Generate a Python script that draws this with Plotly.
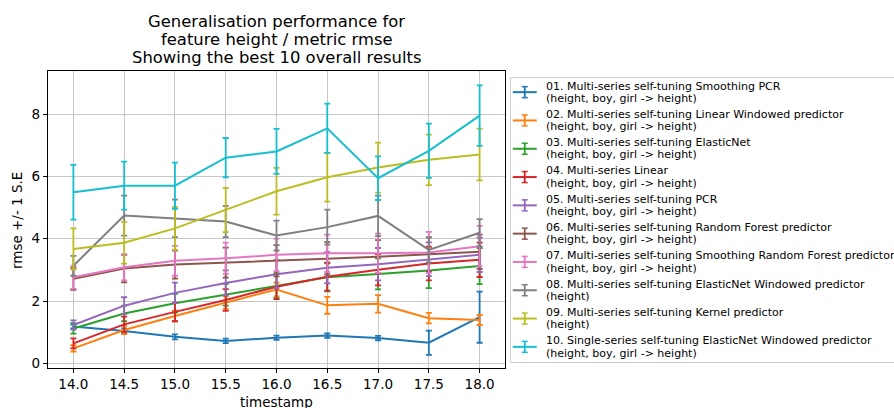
import plotly.graph_objects as go

timestamps = [14.0, 14.5, 15.0, 15.5, 16.0, 16.5, 17.0, 17.5, 18.0]

series_titles = [
    "01. Multi-series self-tuning Smoothing PCR",
    "02. Multi-series self-tuning Linear Windowed predictor",
    "03. Multi-series self-tuning ElasticNet",
    "04. Multi-series Linear",
    "05. Multi-series self-tuning PCR",
    "06. Multi-series self-tuning Random Forest predictor",
    "07. Multi-series self-tuning Smoothing Random Forest predictor",
    "08. Multi-series self-tuning ElasticNet Windowed predictor",
    "09. Multi-series self-tuning Kernel predictor",
    "10. Single-series self-tuning ElasticNet Windowed predictor",
]
series_features = [
    "(height, boy, girl -> height)",
    "(height, boy, girl -> height)",
    "(height, boy, girl -> height)",
    "(height, boy, girl -> height)",
    "(height, boy, girl -> height)",
    "(height, boy, girl -> height)",
    "(height, boy, girl -> height)",
    "(height)",
    "(height)",
    "(height, boy, girl -> height)",
]

colors = ["#1f77b4", "#ff7f0e", "#2ca02c", "#d62728", "#9467bd",
          "#8c564b", "#e377c2", "#7f7f7f", "#bcbd22", "#17becf"]

rmse_smoothing_pcr = [1.18, 1.04, 0.85, 0.72, 0.82, 0.89, 0.81, 0.66, 1.48]
se_smoothing_pcr = [0.06, 0.08, 0.08, 0.07, 0.07, 0.07, 0.07, 0.39, 0.82]

rmse_linear_windowed = [0.48, 1.07, 1.52, 1.95, 2.37, 1.86, 1.91, 1.45, 1.39]
se_linear_windowed = [0.10, 0.13, 0.17, 0.20, 0.22, 0.27, 0.28, 0.17, 0.16]

rmse_elasticnet = [1.12, 1.60, 1.93, 2.20, 2.49, 2.76, 2.87, 2.98, 3.12]
se_elasticnet = [0.17, 0.25, 0.30, 0.35, 0.40, 0.45, 0.50, 0.57, 0.58]

rmse_linear = [0.64, 1.25, 1.65, 2.03, 2.46, 2.78, 3.00, 3.20, 3.32]
se_linear = [0.16, 0.25, 0.30, 0.35, 0.40, 0.45, 0.50, 0.54, 0.55]

rmse_pcr = [1.23, 1.85, 2.26, 2.58, 2.86, 3.07, 3.18, 3.34, 3.48]
se_pcr = [0.15, 0.27, 0.33, 0.40, 0.45, 0.50, 0.52, 0.54, 0.55]

rmse_random_forest = [2.71, 3.04, 3.17, 3.23, 3.29, 3.37, 3.42, 3.50, 3.58]
se_random_forest = [0.35, 0.44, 0.45, 0.48, 0.50, 0.52, 0.53, 0.54, 0.55]

rmse_smoothing_rf = [2.76, 3.08, 3.29, 3.37, 3.48, 3.53, 3.53, 3.56, 3.76]
se_smoothing_rf = [0.37, 0.42, 0.48, 0.50, 0.52, 0.60, 0.63, 0.66, 0.65]

rmse_elasticnet_windowed = [3.13, 4.74, 4.65, 4.55, 4.10, 4.37, 4.73, 3.64, 4.19]
se_elasticnet_windowed = [0.32, 0.64, 0.60, 0.50, 0.48, 0.56, 0.65, 0.40, 0.44]

rmse_kernel = [3.67, 3.87, 4.33, 4.92, 5.52, 5.97, 6.28, 6.53, 6.70]
se_kernel = [0.66, 0.67, 0.69, 0.71, 0.75, 0.78, 0.80, 0.81, 0.83]

rmse_single_elasticnet = [5.49, 5.70, 5.70, 6.60, 6.80, 7.54, 5.94, 6.82, 7.95]
se_single_elasticnet = [0.88, 0.77, 0.74, 0.63, 0.72, 0.79, 0.70, 0.87, 0.97]

rmse_values = [rmse_smoothing_pcr, rmse_linear_windowed, rmse_elasticnet, rmse_linear,
               rmse_pcr, rmse_random_forest, rmse_smoothing_rf,
               rmse_elasticnet_windowed, rmse_kernel, rmse_single_elasticnet]
se_values = [se_smoothing_pcr, se_linear_windowed, se_elasticnet, se_linear,
             se_pcr, se_random_forest, se_smoothing_rf,
             se_elasticnet_windowed, se_kernel, se_single_elasticnet]

title_lines = ["Generalisation performance for",
               "feature height / metric rmse",
               "Showing the best 10 overall results"]

# figure geometry (pixels)
W, H = 894, 408
L, R, T, B = 47.5, 505.5, 71, 368
PW, PH = R - L, B - T


def px_x(x):
    return (x - L) / PW


def px_y(y):
    return (B - y) / PH


FONT = "DejaVu Sans"

fig = go.Figure()

for color, ys, es in zip(colors, rmse_values, se_values):
    fig.add_trace(go.Scatter(
        x=timestamps, y=ys, mode="lines",
        line=dict(color=color, width=2),
        error_y=dict(type="data", array=es, symmetric=True,
                     color=color, thickness=1.8, width=3),
        showlegend=False, hoverinfo="x+y",
    ))

annotations = []
shapes = []

# title, one annotation per line
for i, line in enumerate(title_lines):
    annotations.append(dict(
        text=line, xref="paper", yref="paper",
        x=px_x((L + R) / 2), y=px_y(21.8 + i * 17.9),
        xanchor="center", yanchor="middle", showarrow=False,
        font=dict(family=FONT, size=16.4, color="black"),
    ))

# axis titles
annotations.append(dict(
    text="timestamp", xref="paper", yref="paper",
    x=px_x((L + R) / 2), y=px_y(401.5), xanchor="center", yanchor="middle",
    showarrow=False, font=dict(family=FONT, size=13.5, color="black"),
))
annotations.append(dict(
    text="rmse +/- 1 S.E", xref="paper", yref="paper",
    x=px_x(16.5), y=px_y(221), xanchor="center", yanchor="middle",
    textangle=-90, showarrow=False,
    font=dict(family=FONT, size=13.5, color="black"),
))

# legend box
shapes.append(dict(
    type="rect", xref="paper", yref="paper",
    x0=px_x(511), x1=px_x(900), y0=px_y(362.5), y1=px_y(77.7),
    line=dict(color="#cccccc", width=1), fillcolor="white", layer="above",
))

# legend entries: errorbar handle plus two text lines
entry_gap = 28.3
for i, (color, head, feat) in enumerate(zip(colors, series_titles, series_features)):
    y1 = 86 + i * entry_gap
    y2 = y1 + 12.3
    yh = (y1 + y2) / 2
    shapes.append(dict(type="line", xref="paper", yref="paper",
                       x0=px_x(513.3), x1=px_x(537.3), y0=px_y(yh), y1=px_y(yh),
                       line=dict(color=color, width=2), layer="above"))
    shapes.append(dict(type="line", xref="paper", yref="paper",
                       x0=px_x(525.3), x1=px_x(525.3), y0=px_y(yh - 5.5), y1=px_y(yh + 5.5),
                       line=dict(color=color, width=1.8), layer="above"))
    for yc in (yh - 5.5, yh + 5.5):
        shapes.append(dict(type="line", xref="paper", yref="paper",
                           x0=px_x(522.3), x1=px_x(528.3), y0=px_y(yc), y1=px_y(yc),
                           line=dict(color=color, width=1.5), layer="above"))
    for text, yc in ((head, y1), (feat, y2)):
        annotations.append(dict(
            text=text, xref="paper", yref="paper",
            x=px_x(545), y=px_y(yc), xanchor="left", yanchor="middle",
            showarrow=False, font=dict(family=FONT, size=11, color="black"),
        ))

fig.update_layout(
    width=W, height=H,
    margin=dict(l=L, r=W - R, t=T, b=H - B, autoexpand=False),
    paper_bgcolor="white", plot_bgcolor="white",
    font=dict(family=FONT, color="black", size=13.5),
    showlegend=False,
    annotations=annotations,
    shapes=shapes,
)

fig.update_xaxes(
    range=[13.75, 18.25], tickvals=timestamps,
    ticktext=[f"{t:.1f}" for t in timestamps],
    showgrid=True, gridcolor="#c8c8c8", gridwidth=1.2,
    showline=True, linecolor="black", linewidth=1.2, mirror=True,
    ticks="outside", ticklen=4, tickcolor="black",
    zeroline=False, automargin=False,
)
fig.update_yaxes(
    range=[-0.15, 9.38], tickvals=[0, 2, 4, 6, 8],
    showgrid=True, gridcolor="#c8c8c8", gridwidth=1.2,
    showline=True, linecolor="black", linewidth=1.2, mirror=True,
    ticks="outside", ticklen=4, tickcolor="black",
    zeroline=False, automargin=False,
)

fig.write_html("out.html")
